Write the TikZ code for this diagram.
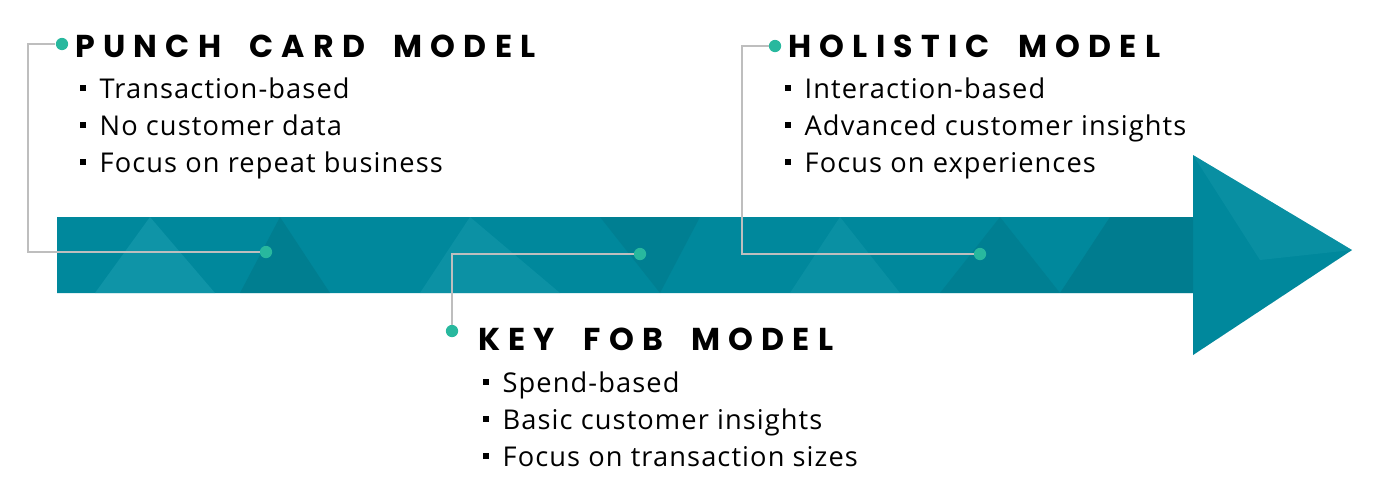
\documentclass[tikz,border=0pt]{standalone}
\usepackage{fontspec}
\setmainfont[LetterSpace=4]{Open Sans}
\newfontfamily\titlefont[LetterSpace=26, WordSpace=1.9]{Poppins}
\usetikzlibrary{calc}
\definecolor{teal}{RGB}{0,136,156}
\definecolor{tealhi}{RGB}{30,160,178}
\definecolor{tealdk}{RGB}{0,108,124}
\definecolor{mint}{RGB}{40,184,158}
\definecolor{gray}{RGB}{190,190,190}
\newcommand\sqbul{\rule[4pt]{3.4pt}{3.4pt}\hspace{7.6pt}}

\begin{document}
\begin{tikzpicture}
      [x = 0.02cm, y = -0.02cm,
      title/.style = {
         anchor = base west,
         inner sep = 0pt,
         font = \titlefont\bfseries\fontsize{18}{21}\selectfont
      },
      item/.style = {
         anchor = base west,
         inner sep = 0pt,
         font = \fontsize{15.5}{18}\selectfont
      },
      dot/.style = {
         fill = mint,
         circle,
         inner sep = 0pt,
         minimum size = 7pt
      },
      link/.style = {
         draw = gray,
         line width = 1.4pt
      }]

      \useasboundingbox (0, 0) rectangle (1400, 501);

      % the arrow
      \path[fill = teal] (57, 217) -- (1193, 217) -- (1193, 155) -- (1352, 250)
         -- (1193, 355) -- (1193, 293) -- (57, 293) -- cycle;
      \begin{scope}
         \clip (57, 217) -- (1193, 217) -- (1193, 155) -- (1352, 250)
            -- (1193, 355) -- (1193, 293) -- (57, 293) -- cycle;
         \fill[tealhi, opacity = 0.5] (150, 217) -- (95, 293) -- (215, 293) -- cycle;
         \fill[tealdk, opacity = 0.35] (280, 217) -- (330, 293) -- (240, 293) -- cycle;
         \fill[tealhi, opacity = 0.4] (470, 217) -- (420, 293) -- (560, 293) -- cycle;
         \fill[tealdk, opacity = 0.3] (600, 217) -- (700, 217) -- (660, 293) -- cycle;
         \fill[tealhi, opacity = 0.35] (840, 217) -- (790, 293) -- (900, 293) -- cycle;
         \fill[tealdk, opacity = 0.3] (1000, 217) -- (1060, 293) -- (940, 293) -- cycle;
         \fill[tealdk, opacity = 0.4] (1110, 217) -- (1193, 217) -- (1193, 355) -- (1060, 293) -- cycle;
         \fill[tealhi, opacity = 0.3] (1193, 155) -- (1352, 250) -- (1260, 260) -- cycle;
         \fill[tealdk, opacity = 0.35] (1193, 355) -- (1352, 250) -- (1290, 340) -- cycle;
      \end{scope}

      % dots
      \node[dot] (punchtop) at (62, 44) {};
      \node[dot] (punchbar) at (266, 252) {};
      \node[dot] (fobbar) at (640, 254) {};
      \node[dot] (fobtop) at (452, 331) {};
      \node[dot] (holtop) at (775, 46) {};
      \node[dot] (holbar) at (980, 254) {};

      % connectors
      \draw[link] (punchtop) -| (28, 252) -- (punchbar);
      \draw[link] (fobbar) -| (fobtop);
      \draw[link] (holtop) -| (742, 254) -- (holbar);

      % titles
      \node[title] (punch) at (75, 57) {PUNCH CARD MODEL};
      \node[title] (fob) at (478, 350) {KEY FOB MODEL};
      \node[title] (holistic) at (788, 57) {HOLISTIC MODEL};

      % bullet lists
      \foreach \t [count = \i] in {Transaction-based, No customer data, Focus on repeat business}
         \node[item] (punch\i) at (80, 98 + 37 * \i - 37) {\sqbul\t};
      \foreach \t [count = \i] in {Spend-based, Basic customer insights, Focus on transaction sizes}
         \node[item] (fob\i) at (483, 392 + 37 * \i - 37) {\sqbul\t};
      \foreach \t [count = \i] in {Interaction-based, Advanced customer insights, Focus on experiences}
         \node[item] (holistic\i) at (785, 98 + 37 * \i - 37) {\sqbul\t};

   \end{tikzpicture}
\end{document}
